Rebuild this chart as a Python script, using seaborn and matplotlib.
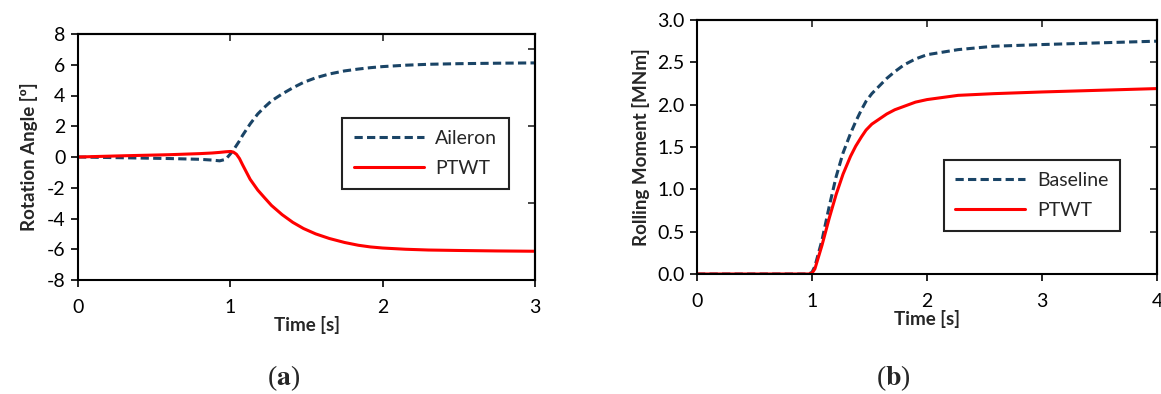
import matplotlib
matplotlib.use("Agg")
import matplotlib.pyplot as plt
import seaborn as sns
import pandas as pd

# ---- data -------------------------------------------------------------
# (a) rotation angle of the control surface
time_a = [0.0, 0.3, 0.6, 0.8, 0.88, 0.93, 0.97, 1.0, 1.02, 1.04, 1.06, 1.08,
          1.13, 1.18, 1.22, 1.27, 1.34, 1.41, 1.48, 1.56, 1.65, 1.75, 1.84,
          1.92, 2.0, 2.15, 2.3, 2.5, 2.75, 3.0]
aileron_angle = [0.0, -0.05, -0.1, -0.15, -0.2, -0.25, -0.15, 0.2, 0.45,
                 0.75, 1.05, 1.4, 2.15, 2.8, 3.2, 3.65, 4.1, 4.5, 4.85, 5.15,
                 5.4, 5.6, 5.72, 5.81, 5.88, 5.97, 6.03, 6.07, 6.1, 6.12]
ptwt_angle = [0.0, 0.08, 0.15, 0.22, 0.26, 0.3, 0.34, 0.36, 0.32, 0.18,
              -0.1, -0.5, -1.45, -2.15, -2.6, -3.15, -3.75, -4.25, -4.65,
              -5.0, -5.3, -5.56, -5.74, -5.85, -5.92, -6.0, -6.05, -6.08,
              -6.11, -6.13]

# (b) rolling moment
time_b = [0.0, 0.5, 0.97, 1.0, 1.025, 1.087, 1.15, 1.21, 1.27, 1.335, 1.38,
          1.43, 1.47, 1.52, 1.65, 1.72, 1.8, 1.9, 2.0, 2.27, 2.58, 3.0, 3.5,
          4.0]
baseline_moment = [0.0, 0.0, 0.0, 0.02, 0.09, 0.4, 0.8, 1.15, 1.43, 1.66,
                   1.8, 1.94, 2.04, 2.13, 2.31, 2.39, 2.47, 2.54, 2.59, 2.65,
                   2.69, 2.71, 2.73, 2.75]
ptwt_moment = [0.0, 0.0, 0.0, 0.01, 0.06, 0.34, 0.66, 0.94, 1.18, 1.39, 1.51,
               1.62, 1.7, 1.77, 1.89, 1.94, 1.98, 2.03, 2.06, 2.11, 2.13,
               2.15, 2.17, 2.19]

panel_a_ticks_x = [0, 1, 2, 3]
panel_a_ticks_y = [-8, -6, -4, -2, 0, 2, 4, 6, 8]
panel_b_ticks_x = [0, 1, 2, 3, 4]
panel_b_ticks_y = [0.0, 0.5, 1.0, 1.5, 2.0, 2.5, 3.0]

# ---- style ------------------------------------------------------------
sns.set_theme(style="ticks")
plt.rcParams["font.family"] = ["Lato", "DejaVu Sans"]
plt.rcParams["axes.linewidth"] = 1.5

NAVY = "#1A4466"
RED = "#FF0000"
LW = 2.2
DASH = (2.7, 1.4)
TICK_FS = 14
LABEL_FS = 13.5
LEGEND_FS = 14

fig = plt.figure(figsize=(11.61, 3.94), dpi=100)
W, H = 1161, 394


def px_axes(left, right, top, bottom):
    return fig.add_axes([left / W, (H - bottom) / H,
                         (right - left) / W, (bottom - top) / H])


def style_axes(ax, xticks, yticks, fmt):
    ax.set_xticks(xticks)
    ax.set_yticks(yticks)
    ax.set_yticklabels([fmt.format(v) for v in yticks])
    ax.tick_params(axis="both", direction="out", length=5, width=1.2,
                   labelsize=TICK_FS, color="black", labelcolor="black", pad=4)
    ax.tick_params(axis="x", pad=9)
    for s in ax.spines.values():
        s.set_visible(True)
        s.set_color("black")
        s.set_linewidth(1.5)


def add_minor_frame_ticks(ax, top_ticks, right_ticks):
    top = ax.secondary_xaxis("top")
    top.set_xticks(top_ticks)
    top.tick_params(direction="in", length=5, width=1.2, labeltop=False)
    right = ax.secondary_yaxis("right")
    right.set_yticks(right_ticks)
    right.tick_params(direction="in", length=5, width=1.2, labelright=False)


def boxed_legend(ax, anchor):
    leg = ax.legend(loc="upper right", bbox_to_anchor=anchor,
                    borderaxespad=0, fontsize=LEGEND_FS, handlelength=3.6,
                    handletextpad=0.6, borderpad=0.6, labelspacing=0.7,
                    fancybox=False, framealpha=1, edgecolor="#222222")
    leg.get_frame().set_linewidth(1.5)
    return leg


# ---- panel (a) --------------------------------------------------------
ax1 = px_axes(78, 535, 34, 280)
df_a = pd.DataFrame({"t": time_a, "Aileron": aileron_angle, "PTWT": ptwt_angle})
sns.lineplot(data=df_a, x="t", y="Aileron", ax=ax1, color=NAVY, lw=LW,
             label="Aileron")
ax1.lines[-1].set_dashes(DASH)
sns.lineplot(data=df_a, x="t", y="PTWT", ax=ax1, color=RED, lw=LW, label="PTWT")
ax1.set_xlim(0, 3)
ax1.set_ylim(-8, 8)
style_axes(ax1, panel_a_ticks_x, panel_a_ticks_y, "{:g}")
ax1.set_xlabel("Time [s]", fontsize=LABEL_FS, fontweight="bold", labelpad=0)
ax1.set_ylabel("Rotation Angle [º]", fontsize=LABEL_FS, fontweight="bold",
               labelpad=6)
add_minor_frame_ticks(ax1, [1, 2], [7, 2, -3, -8])
leg1 = boxed_legend(ax1, (0.943, 0.659))
leg1.get_lines()[0].set_dashes(DASH)

# ---- panel (b) --------------------------------------------------------
ax2 = px_axes(697, 1157, 20, 274)
df_b = pd.DataFrame({"t": time_b, "Baseline": baseline_moment,
                     "PTWT": ptwt_moment})
sns.lineplot(data=df_b, x="t", y="Baseline", ax=ax2, color=NAVY, lw=LW,
             label="Baseline")
ax2.lines[-1].set_dashes(DASH)
sns.lineplot(data=df_b, x="t", y="PTWT", ax=ax2, color=RED, lw=LW, label="PTWT")
ax2.set_xlim(0, 4)
ax2.set_ylim(0, 3)
style_axes(ax2, panel_b_ticks_x, panel_b_ticks_y, "{:.1f}")
ax2.set_xlabel("Time [s]", fontsize=LABEL_FS, fontweight="bold", labelpad=0)
ax2.set_ylabel("Rolling Moment [MNm]", fontsize=LABEL_FS, fontweight="bold",
               labelpad=5)
add_minor_frame_ticks(ax2, [1, 2, 3], [0.0, 0.5, 1.0, 1.5, 2.0, 2.5])
leg2 = boxed_legend(ax2, (0.92, 0.449))
leg2.get_lines()[0].set_dashes(DASH)

# ---- panel captions ---------------------------------------------------
for x, txt in ((284, "a"), (893, "b")):
    fig.text(x / W, 1 - 378 / H, "(" + r"$\mathbf{" + txt + "}$" + ")",
             fontsize=20, family="Liberation Serif", ha="center", va="center",
             math_fontfamily="stix")

fig.savefig("out.png", dpi=100)
